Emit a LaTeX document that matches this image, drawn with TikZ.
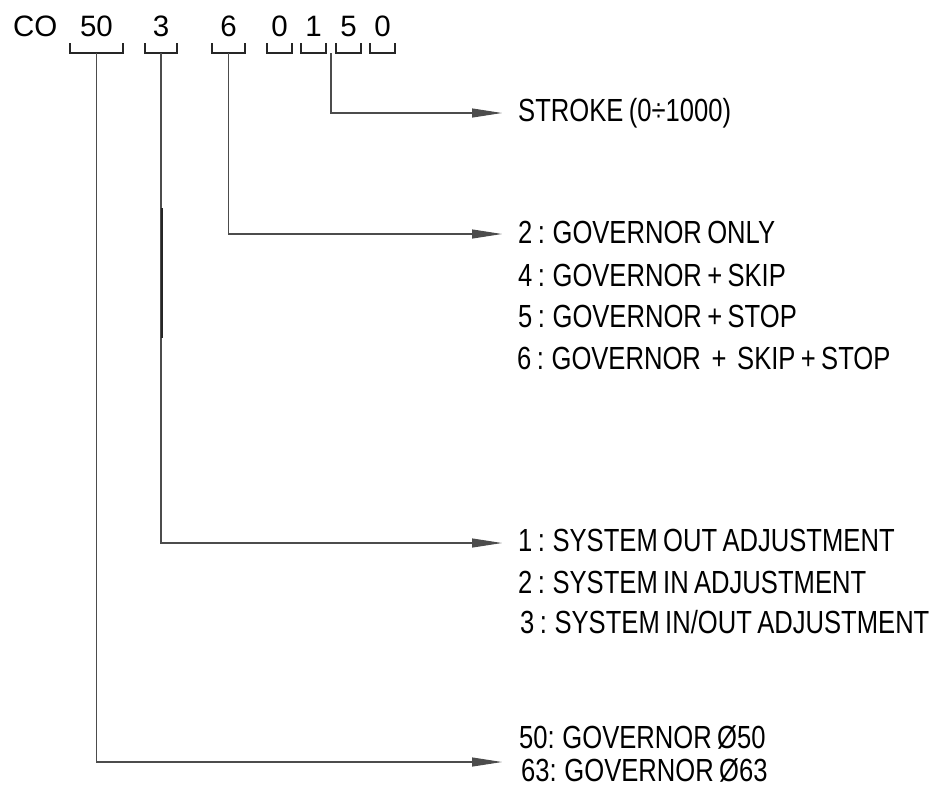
\documentclass[tikz,border=0pt]{standalone}
\usepackage{fontspec}
\setmainfont{Liberation Sans}
\newfontfamily\narrowfont{Liberation Sans}[FakeStretch=0.8,WordSpace=0.75]
\usetikzlibrary{arrows.meta}

\tikzset{
  codechar/.style={inner sep=0pt, anchor=base, font=\fontsize{29.5}{29.5}\selectfont},
  option/.style={inner sep=0pt, anchor=base west, font=\narrowfont\fontsize{32}{32}\selectfont},
  bracket/.style={line width=2pt, black!85},
  leader/.style={line width=1.1pt, black!70, -{Triangle[length=30pt,width=9pt]}}
}

\begin{document}
\begin{tikzpicture}[x=1pt,y=-1pt]
        \useasboundingbox (0,0) rectangle (941,796);

        % order code
        \node[codechar, anchor=base west] (co) at (13,36) {CO};
        \foreach \a/\b/\d/\n in {70/123/50/dia, 145/177/3/sys, 212/245/6/gov,
                                 267/292/0/sa, 301/326/1/sb, 336/361/5/sc, 370/395/0/sd} {
            \draw[bracket] (\a,43) -- (\a,53) -- (\b,53) -- (\b,43);
            \node[codechar] (d\n) at ({(\a+\b)/2},36) {\d};
            \coordinate (\n) at ({(\a+\b)/2},53);
        }
        \coordinate (str) at (331,53);

        % arrow ends
        \coordinate (e1) at (502,113);
        \coordinate (e2) at (502,234);
        \coordinate (e3) at (502,543);
        \coordinate (e4) at (502,762);

        \draw[leader] (str) |- (e1);
        \draw[leader] (gov) |- (e2);
        \draw[leader] (sys) |- (e3);
        \draw[leader] (dia) |- (e4);
        \draw[line width=1.2pt, black!85] (162,208) -- (162,338);

        \node[option] (o1) at (518,121) {STROKE (0÷1000)};

        \node[option] (o2) at (518,243) {2 : GOVERNOR ONLY};
        \node[option] (o3) at (518,286) {4 : GOVERNOR + SKIP};
        \node[option] (o4) at (518,327) {5 : GOVERNOR + STOP};
        \node[option] (o5) at (517,369) {6 : GOVERNOR\ \ +\ \ SKIP + STOP};

        \node[option] (o6) at (518,551) {1 : SYSTEM OUT ADJUSTMENT};
        \node[option] (o7) at (518,593) {2 : SYSTEM IN ADJUSTMENT};
        \node[option] (o8) at (520,633) {3 : SYSTEM IN/OUT ADJUSTMENT};

        \node[option] (o9) at (519,748) {50: GOVERNOR Ø50};
        \node[option] (o10) at (521,781) {63: GOVERNOR Ø63};
\end{tikzpicture}
\end{document}
